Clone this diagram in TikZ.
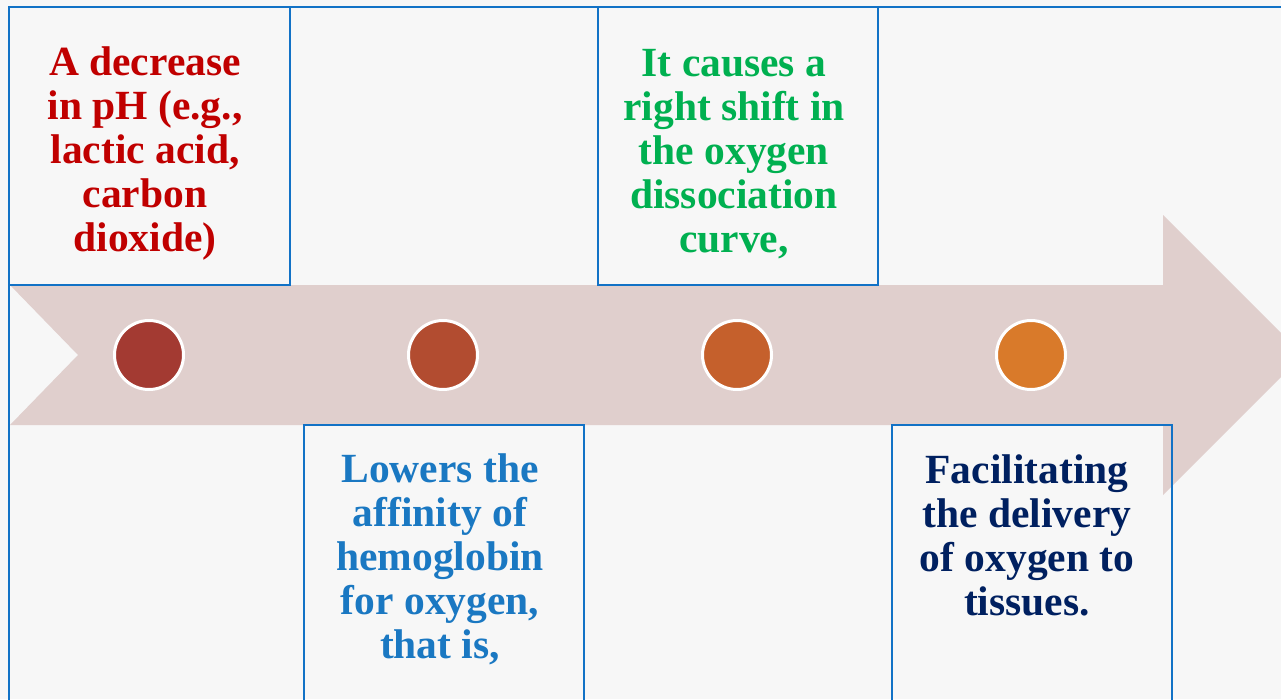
\documentclass[tikz,border=0pt]{standalone}
\usepackage{fontspec}
\setmainfont{Liberation Serif}
\definecolor{bgc}{HTML}{F7F7F7}
\definecolor{arrowc}{HTML}{E0CFCD}
\definecolor{framec}{HTML}{1272C6}
\definecolor{dotA}{HTML}{A33A32}
\definecolor{dotB}{HTML}{B24C30}
\definecolor{dotC}{HTML}{C5602C}
\definecolor{dotD}{HTML}{D97A2A}
\definecolor{txtred}{HTML}{C00000}
\definecolor{txtgreen}{HTML}{00B050}
\definecolor{txtblue}{HTML}{1A78C2}
\definecolor{txtnavy}{HTML}{002060}
\tikzset{
  box/.style={draw=framec, line width=2pt, rectangle, inner sep=0pt, outer sep=0pt, anchor=north west},
  dot/.style={circle, draw=white, line width=3pt, minimum size=69pt, inner sep=0pt},
  txt/.style={align=center, inner sep=0pt, font={\fontsize{41.5}{44}\selectfont\bfseries}},
  framel/.style={draw=framec, line width=2pt}
}
\begin{document}
\begin{tikzpicture}[x=1pt,y=-1pt]
\useasboundingbox (0,0) rectangle (1281,699);
\clip (0,0) rectangle (1281,699);
\fill[bgc] (0,0) rectangle (1281,699);
% timeline arrow
\fill[arrowc] (10,285) -- (1163,285) -- (1163,215) -- (1303,355) -- (1163,495)
  -- (1163,425) -- (10,425) -- (78,355) -- cycle;
% outer frame
\draw[framel] (9,710) -- (9,7) -- (1290,7);
% circles
\node[dot, fill=dotA] (d1) at (149,355) {};
\node[dot, fill=dotB] (d2) at (443,355) {};
\node[dot, fill=dotC] (d3) at (737,355) {};
\node[dot, fill=dotD] (d4) at (1031,355) {};
% boxes
\node[box, minimum width=281pt, minimum height=278pt] (b1) at (9,7) {};
\node[box, minimum width=280pt, minimum height=278pt] (b3) at (598,7) {};
\node[box, minimum width=280pt, minimum height=290pt] (b2) at (304,425) {};
\node[box, minimum width=280pt, minimum height=290pt] (b4) at (892,425) {};
% texts
\node[txt, text=txtred] (t1) at (145,154) {A decrease\\in pH (e.g.,\\lactic acid,\\carbon\\dioxide)};
\node[txt, text=txtgreen] (t3) at (734,154) {It causes a\\right shift in\\the oxygen\\dissociation\\curve,};
\node[txt, text=txtblue] (t2) at (440,559) {Lowers the\\affinity of\\hemoglobin\\for oxygen,\\that is,};
\node[txt, text=txtnavy] (t4) at (1027,535) {Facilitating\\the delivery\\of oxygen to\\tissues.};
\end{tikzpicture}
\end{document}
